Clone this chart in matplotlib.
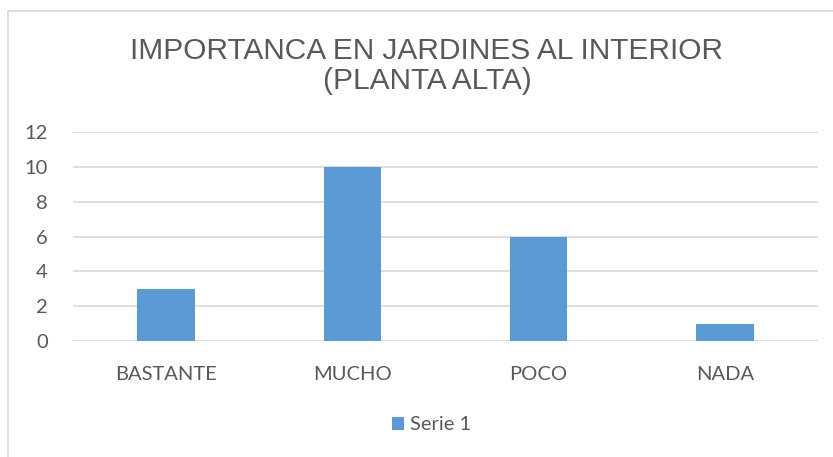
import matplotlib.pyplot as plt
from matplotlib.patches import Rectangle

categories = ["BASTANTE", "MUCHO", "POCO", "NADA"]
values = [3, 10, 6, 1]
series_name = "Serie 1"
yticks = [0, 2, 4, 6, 8, 10, 12]
title = "IMPORTANCA EN JARDINES AL INTERIOR\n(PLANTA ALTA)"

W, H = 833, 457
fig = plt.figure(figsize=(W / 100, H / 100), dpi=100)

# chart area border (cut off at right/bottom like the screenshot)
fig.patches.append(Rectangle((8 / W, -0.1), 1.2, 1 - 11 / H + 0.1,
                             transform=fig.transFigure, fill=False,
                             edgecolor="#D9D9D9", linewidth=1.2))

ax = fig.add_axes([73 / W, 1 - 341 / H, (818 - 73) / W, (341 - 132) / H])
x = range(len(categories))
ax.bar(x, values, width=0.31, color="#5B9BD5", label=series_name, zorder=3)

ax.set_xlim(-0.5, len(categories) - 0.5)
ax.set_ylim(0, 12)
ax.set_yticks(yticks)
ax.set_xticks(list(x))
ax.set_xticklabels(categories)
ax.grid(axis="y", color="#D9D9D9", linewidth=1.2, zorder=0)
for s in ax.spines.values():
    s.set_visible(False)
ax.tick_params(length=0, labelsize=14.5, labelcolor="#595959")
ax.tick_params(axis="y", pad=18)
ax.tick_params(axis="x", pad=18)
for lab in ax.get_xticklabels() + ax.get_yticklabels():
    lab.set_family("Lato")

fig.text(427 / W, 1 - 66 / H, title, ha="center", va="center", fontsize=21.5,
         color="#595959", family="Liberation Sans", linespacing=1.08)

fig.legend(loc="center", bbox_to_anchor=(432 / W, 1 - 425 / H), frameon=False,
           prop={"family": "Lato", "size": 14.5}, labelcolor="#595959",
           handlelength=0.6, handleheight=0.6, handletextpad=0.3)

fig.savefig("out.png", dpi=100, facecolor="white")
